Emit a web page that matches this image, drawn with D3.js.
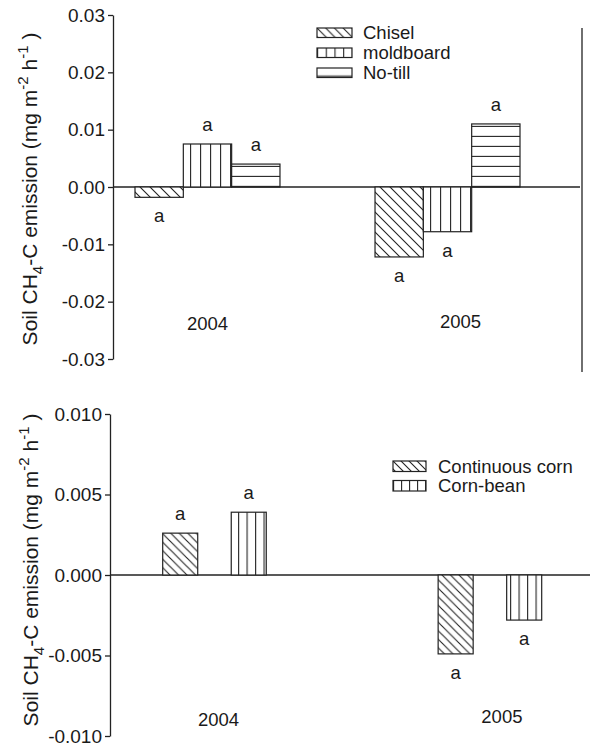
<!DOCTYPE html>
<head>
<meta charset="utf-8">
<style>
body { margin:0; background:#fff; }
text { font-family: Arial, "Liberation Sans", sans-serif; fill:#1a1a1a; }
.axis path, .axis line { stroke:#222; stroke-width:1.3; }
.axis text { font-size:19px; fill:#1a1a1a; }
.bar { stroke:#222; stroke-width:1.2; }
.zero { stroke:#222; stroke-width:1.3; }
.lbl { font-size:18.5px; }
</style>
</head>
<body>
<script src="https://d3js.org/d3.v7.min.js"></script>
<script>
// top panel - tillage
var years = ["2004", "2005"];
var tillage = ["Chisel", "moldboard", "No-till"];
var tillage2004 = [-0.0018, 0.0075, 0.0040];
var tillage2005 = [-0.0122, -0.0078, 0.0110];
var tillageLetters = [["a", "a", "a"], ["a", "a", "a"]];
var tillageTicks = [-0.03, -0.02, -0.01, 0, 0.01, 0.02, 0.03];

// bottom panel - rotation
var rotation = ["Continuous corn", "Corn-bean"];
var rotation2004 = [0.0026, 0.0039];
var rotation2005 = [-0.0049, -0.0028];
var rotationLetters = [["a", "a"], ["a", "a"]];
var rotationTicks = [-0.010, -0.005, 0, 0.005, 0.010];

var width = 590, height = 747;

var svg = d3.select("body").append("svg")
  .attr("width", width)
  .attr("height", height);

var defs = svg.append("defs");

function addPattern(id, kind, step, offY) {
  var p = defs.append("pattern")
    .attr("id", id)
    .attr("patternUnits", "userSpaceOnUse")
    .attr("width", step)
    .attr("height", step)
    .attr("y", offY || 0);
  p.append("rect").attr("width", step).attr("height", step).attr("fill", "#fff");
  var d;
  if (kind == "diag") {
    d = "M0,0L" + step + "," + step +
        "M" + (-step/2) + "," + (step/2) + "L" + (step/2) + "," + (step*1.5) +
        "M" + (step/2) + "," + (-step/2) + "L" + (step*1.5) + "," + (step/2);
  } else if (kind == "vert") {
    d = "M0.6,0V" + step;
  } else {
    d = "M0," + (step - 0.6) + "H" + step;
  }
  p.append("path").attr("d", d).attr("stroke", "#222").attr("stroke-width", 1.1).attr("fill", "none");
}

// pattern for each series
var kinds = ["diag", "vert", "horiz"];

function panel(cfg) {
  var g = svg.append("g");
  var y = d3.scaleLinear().domain(cfg.domain).range(cfg.yRange);
  var x0 = d3.scaleBand().domain(years).range(cfg.xRange).paddingInner(cfg.padGroups);
  var x1 = d3.scaleBand().domain(cfg.series).range([0, x0.bandwidth()]).paddingInner(cfg.padBars);

  cfg.series.forEach(function(s, j) {
    addPattern(cfg.id + "p" + j, kinds[j], cfg.step, y(0));
    addPattern(cfg.id + "l" + j, kinds[j], cfg.legendStep, 0);
  });

  var rows = [];
  years.forEach(function(yr, i) {
    cfg.values[i].forEach(function(v, j) {
      rows.push({year: yr, j: j, s: cfg.series[j], v: v, letter: cfg.letters[i][j]});
    });
  });

  // zero line
  g.append("line").attr("class", "zero")
    .attr("x1", cfg.axisX).attr("x2", cfg.zeroEnd)
    .attr("y1", y(0)).attr("y2", y(0));

  g.selectAll("rect.bar").data(rows).enter().append("rect")
    .attr("class", "bar")
    .attr("x", function(d) { return x0(d.year) + x1(d.s); })
    .attr("y", function(d) { return Math.min(y(d.v), y(0)); })
    .attr("width", x1.bandwidth())
    .attr("height", function(d) { return Math.abs(y(d.v) - y(0)); })
    .attr("fill", function(d) { return "url(#" + cfg.id + "p" + d.j + ")"; });

  g.selectAll("text.let").data(rows).enter().append("text")
    .attr("class", "lbl let")
    .attr("text-anchor", "middle")
    .attr("x", function(d) { return x0(d.year) + x1(d.s) + x1.bandwidth()/2; })
    .attr("y", function(d) { return d.v > 0 ? y(d.v) - 13 : y(d.v) + 25; })
    .text(function(d) { return d.letter; });

  // year labels
  g.selectAll("text.yr").data(years).enter().append("text")
    .attr("class", "lbl yr")
    .attr("text-anchor", "middle")
    .attr("x", function(d, i) { return x0(d) + x0.bandwidth()/2 + cfg.yearDx[i]; })
    .attr("y", function(d, i) { return cfg.yearY[i]; })
    .text(function(d) { return d; });

  var axis = d3.axisLeft(y)
    .tickValues(cfg.ticks)
    .tickFormat(function(d) { return d.toFixed(cfg.decimals); })
    .tickSize(5).tickSizeOuter(0).tickPadding(3);

  g.append("g").attr("class", "axis")
    .attr("transform", "translate(" + cfg.axisX + ",0)")
    .call(axis);

  // y title
  var t = g.append("text")
    .attr("text-anchor", "middle")
    .attr("transform", "translate(" + cfg.titleX + "," + cfg.titleY + ") rotate(-90)")
    .style("font-size", "21px");
  t.append("tspan").text("Soil CH");
  t.append("tspan").attr("dy", 6).style("font-size", "15px").text("4");
  t.append("tspan").attr("dy", -6).text("-C emission (mg m");
  t.append("tspan").attr("dy", -9).style("font-size", "15px").text("-2");
  t.append("tspan").attr("dy", 9).text("  h");
  t.append("tspan").attr("dy", -9).style("font-size", "15px").text("-1");
  t.append("tspan").attr("dy", 9).text(" )");

  // legend
  var lg = g.selectAll("g.leg").data(cfg.series).enter().append("g")
    .attr("transform", function(d, i) { return "translate(" + cfg.legX + "," + (cfg.legY + i*cfg.legDy) + ")"; });
  lg.append("rect").attr("class", "bar")
    .attr("width", cfg.swW).attr("height", cfg.swH)
    .attr("fill", function(d, i) { return "url(#" + cfg.id + "l" + i + ")"; });
  lg.append("text").attr("class", "lbl")
    .attr("x", cfg.legTextDx).attr("y", cfg.swH + 1)
    .text(function(d) { return d; });

  return {g: g, y: y};
}

var tillPanel = panel({
  id: "t", series: tillage, values: [tillage2004, tillage2005], letters: tillageLetters,
  domain: [-0.03, 0.03], yRange: [359, 15], ticks: tillageTicks, decimals: 2,
  xRange: [135, 520], padGroups: 0.396, padBars: 0, step: 10, legendStep: 8.7,
  axisX: 113, zeroEnd: 580, titleX: 37, titleY: 189,
  yearDx: [0, 13], yearY: [330, 328],
  legX: 317, legY: 28, legDy: 20, swW: 35, swH: 9.5, legTextDx: 46
});

// right frame line of the top panel
tillPanel.g.append("line").attr("class", "zero")
  .attr("x1", 582).attr("x2", 582).attr("y1", 28).attr("y2", 372);

panel({
  id: "b", series: rotation, values: [rotation2004, rotation2005], letters: rotationLetters,
  domain: [-0.01, 0.01], yRange: [736, 414], ticks: rotationTicks, decimals: 3,
  xRange: [162.7, 541.7], padGroups: 0.624, padBars: 0.489, step: 8.5, legendStep: 8,
  axisX: 110, zeroEnd: 590, titleX: 38, titleY: 570,
  yearDx: [4, 12], yearY: [726, 723],
  legX: 393, legY: 461, legDy: 19.5, swW: 33, swH: 10.5, legTextDx: 45
});
</script>
</body>
